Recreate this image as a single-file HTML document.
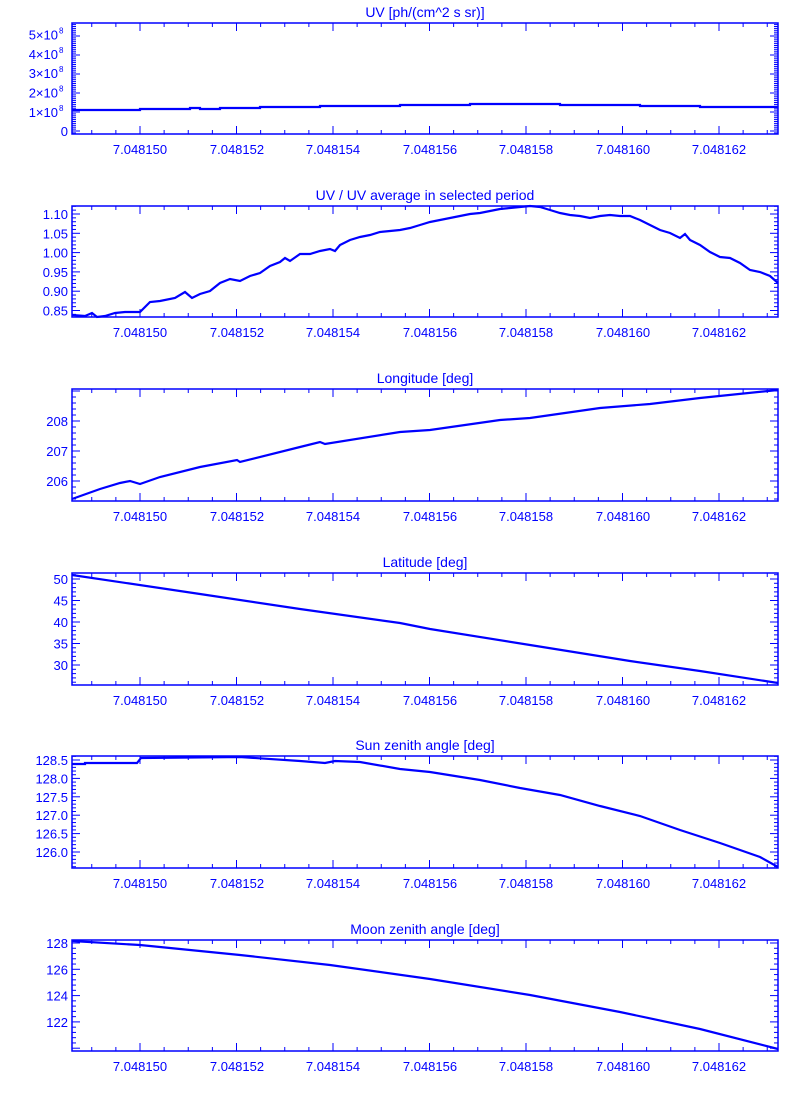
<!DOCTYPE html>
<html><head><style>
html,body{margin:0;padding:0;background:#fff;width:800px;height:1100px;overflow:hidden}
svg text{font-family:"Liberation Sans","DejaVu Sans",sans-serif;fill:#0000ff}
</style></head><body>
<svg id="s" width="800" height="1100" xmlns="http://www.w3.org/2000/svg"></svg>
<script>
const s=document.getElementById('s');const C='#0000ff';
let h='';
const L=72,R=778;
const xt=[[140,'7.048150'],[237,'7.048152'],[333,'7.048154'],[430,'7.048156'],[526,'7.048158'],[623,'7.048160'],[719,'7.048162']];
function panel(top,bot,title,yt,minor,pts,sup){
  h+=`<rect x="${L}" y="${top}" width="${R-L}" height="${bot-top}" fill="none" stroke="${C}" stroke-width="1.5"/>`;
  h+=`<text x="425" y="${top-6}" font-size="14" text-anchor="middle">${title}</text>`;
  const step=96.5/4;
  for(let x=140-step*2;x<=R;x+=step){ if(x<L)continue;
    const maj=Math.abs(((x-140)/96.5)-Math.round((x-140)/96.5))<0.01;
    const l=maj?8:4;
    h+=`<line x1="${x}" y1="${bot}" x2="${x}" y2="${bot-l}" stroke="${C}"/><line x1="${x}" y1="${top}" x2="${x}" y2="${top+l}" stroke="${C}"/>`;}
  xt.forEach(t=>h+=`<text x="${t[0]}" y="${bot+20}" font-size="13" text-anchor="middle">${t[1]}</text>`);
  const d=yt[1][0]-yt[0][0];
  for(let i=-20;i<=(yt.length+20)*minor;i++){const y=yt[0][0]+i*d/minor;if(y<top||y>bot)continue;
    const l=(i%minor==0)?8:4;
    h+=`<line x1="${L}" y1="${y}" x2="${L+l}" y2="${y}" stroke="${C}"/><line x1="${R}" y1="${y}" x2="${R-l}" y2="${y}" stroke="${C}"/>`;}
  yt.forEach(t=>{ if(sup&&t[1]!='0'){h+=`<text x="${L-14}" y="${t[0]+5}" font-size="13" text-anchor="end">${t[1]}×10</text><text x="${L-13}" y="${t[0]-1}" font-size="8">8</text>`;}
    else h+=`<text x="${L-4}" y="${t[0]+5}" font-size="13" text-anchor="end">${t[1]}</text>`;});
  h+=`<polyline points="${pts.map(p=>p.join(',')).join(' ')}" fill="none" stroke="${C}" stroke-width="2.2"/>`;
}
panel(23,134,'UV [ph/(cm^2 s sr)]',[[131,'0'],[112,'1'],[92.6,'2'],[73.2,'3'],[53.8,'4'],[34.4,'5']],10,
 [[72,110],[140,110],[140,109],[190,109],[190,108],[200,108],[200,109],[220,109],[220,108],[260,108],[260,107],[320,107],[320,106],[400,106],[400,105],[470,105],[470,104],[560,104],[560,105],[640,105],[640,106],[700,106],[700,107],[778,107]],true);
panel(206,317,'UV / UV average in selected period',[[214,'1.10'],[233.3,'1.05'],[252.6,'1.00'],[271.9,'0.95'],[291.2,'0.90'],[310.5,'0.85']],5,
 [[72,315],[85,316],[92,313],[97,317],[105,316],[115,313],[125,312],[140,312],[150,302],[160,301],[175,298],[185,292],[192,298],[200,294],[210,291],[220,283],[230,279],[240,281],[250,276],[260,273],[270,266],[280,262],[285,258],[290,261],[300,254],[310,254],[320,251],[330,249],[335,251],[340,245],[350,240],[360,237],[370,235],[380,232],[390,231],[400,230],[410,228],[420,225],[430,222],[440,220],[450,218],[460,216],[470,214],[480,213],[490,211],[500,209],[510,208],[520,207],[530,206],[540,207],[550,210],[560,213],[570,215],[580,216],[590,218],[600,216],[610,215],[620,216],[630,216],[640,220],[650,225],[660,230],[670,233],[680,238],[685,234],[690,240],[700,245],[710,252],[720,257],[730,258],[740,263],[750,270],[760,272],[770,276],[778,283]]);
panel(389,501,'Longitude [deg]',[[421,'208'],[451,'207'],[481,'206']],5,
 [[72,499],[100,489],[120,483],[130,481],[140,484],[160,477],[200,467],[237,460],[240,462],[300,447],[320,442],[325,444],[400,432],[430,430],[500,420],[530,418],[600,408],[650,404],[700,398],[778,390]]);
panel(573,685,'Latitude [deg]',[[579,'50'],[600.5,'45'],[622,'40'],[643.5,'35'],[665,'30']],5,
 [[72,575],[200,594],[300,609],[400,623],[430,629],[530,645],[630,661],[700,671],[778,683]]);
panel(756,868,'Sun zenith angle [deg]',[[760,'128.5'],[778.4,'128.0'],[796.8,'127.5'],[815.2,'127.0'],[833.6,'126.5'],[852,'126.0']],5,
 [[72,764],[85,764],[85,763],[137,763],[141,758],[240,757],[300,761],[325,763],[335,761],[360,762],[400,769],[430,772],[480,780],[520,788],[560,795],[600,806],[640,816],[680,830],[720,843],[760,857],[778,867]]);
panel(940,1051,'Moon zenith angle [deg]',[[943,'128'],[969.3,'126'],[995.6,'124'],[1021.9,'122']],5,
 [[72,941],[140,945],[240,955],[330,965],[430,979],[530,995],[620,1012],[700,1029],[778,1049]]);
s.innerHTML=h;
</script>
</body></html>
